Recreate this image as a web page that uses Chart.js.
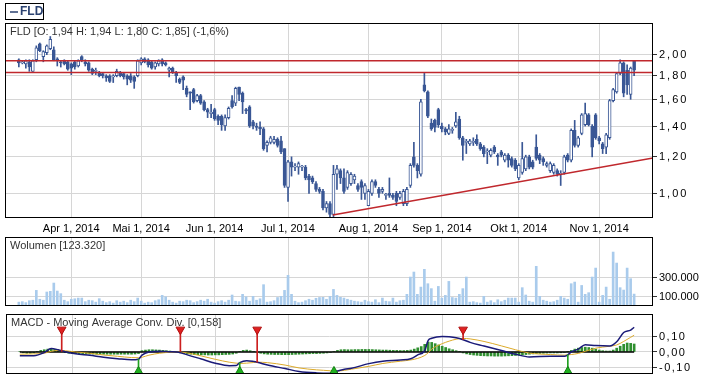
<!DOCTYPE html>
<html><head><meta charset="utf-8">
<script src="https://cdn.jsdelivr.net/npm/chart.js@4.4.1/dist/chart.umd.min.js"></script>
<style>
html,body{margin:0;padding:0;background:#fff;}
#wrap{position:relative;width:702px;height:380px;overflow:hidden;background:#fff;}
canvas{position:absolute;left:0;}
</style></head><body>
<div id="wrap">
<canvas id="c1" width="702" height="237" style="top:0;width:702px;height:237px"></canvas>
<canvas id="c2" width="702" height="69" style="top:237px;width:702px;height:69px"></canvas>
<canvas id="c3" width="702" height="72" style="top:308px;width:702px;height:72px"></canvas>
</div>
<script>
// ---- category / tick data ----
const monthIdx = [15, 35, 56, 77, 100, 121, 143, 166];
const monthLabels = ['Apr 1, 2014','Mai 1, 2014','Jun 1, 2014','Jul 1, 2014','Aug 1, 2014','Sep 1, 2014','Okt 1, 2014','Nov 1, 2014'];
const priceTicks = [1.0, 1.2, 1.4, 1.6, 1.8, 2.0];
const volumeTicks = [100000, 300000];
const macdTicks = [-0.1, 0, 0.1];

// ---- price series (one value per trading day) ----
const openP = [1.95,1.92,1.91,1.93,1.84,1.95,2.11,1.98,2.02,2.06,
2.05,1.96,1.93,1.94,1.93,1.91,1.93,1.89,1.98,1.93,
1.92,1.86,1.84,1.83,1.82,1.80,1.80,1.79,1.80,1.83,
1.82,1.80,1.80,1.79,1.80,1.92,1.96,1.95,1.93,1.88,
1.91,1.95,1.92,1.85,1.87,1.83,1.77,1.79,1.69,1.66,
1.68,1.59,1.63,1.58,1.52,1.49,1.52,1.47,1.47,1.40,
1.46,1.59,1.57,1.70,1.65,1.52,1.54,1.43,1.40,1.39,
1.38,1.27,1.29,1.29,1.31,1.30,1.25,1.03,1.17,1.14,
1.14,1.14,1.14,1.09,1.08,1.05,1.02,1.01,0.93,0.95,
0.90,1.10,1.12,1.08,1.03,1.05,1.07,1.04,1.06,1.00,
0.94,1.00,1.06,1.02,1.01,0.99,1.00,0.99,1.00,0.98,
0.95,0.95,1.04,1.20,1.15,1.10,1.72,1.66,1.42,1.44,
1.52,1.40,1.38,1.35,1.37,1.40,1.45,1.32,1.29,1.28,
1.29,1.31,1.28,1.26,1.23,1.21,1.26,1.21,1.23,1.18,
1.21,1.19,1.18,1.08,1.11,1.13,1.20,1.17,1.26,1.21,
1.19,1.15,1.12,1.11,1.12,1.10,1.11,1.21,1.18,1.37,
1.27,1.35,1.41,1.48,1.40,1.48,1.32,1.28,1.26,1.32,
1.59,1.66,1.82,1.92,1.85,1.64,1.94];
const highP = [1.96,1.94,1.95,1.95,1.95,2.09,2.12,2.04,2.10,2.19,
2.08,1.97,1.94,1.95,1.94,1.92,1.94,1.95,1.99,1.95,
1.93,1.87,1.87,1.84,1.83,1.81,1.81,1.81,1.86,1.84,
1.83,1.81,1.82,1.80,1.95,1.97,1.97,1.96,1.94,1.93,
1.95,1.96,1.93,1.88,1.88,1.84,1.78,1.80,1.71,1.66,
1.69,1.64,1.64,1.59,1.53,1.56,1.53,1.48,1.48,1.48,
1.54,1.63,1.70,1.70,1.66,1.53,1.55,1.44,1.42,1.43,
1.39,1.30,1.33,1.33,1.32,1.33,1.25,1.18,1.20,1.16,
1.17,1.15,1.15,1.10,1.09,1.06,1.03,1.02,0.96,0.96,
1.15,1.15,1.13,1.13,1.12,1.11,1.10,1.05,1.07,1.05,
1.02,1.07,1.07,1.03,1.03,1.00,1.08,1.00,1.01,1.01,
1.02,1.03,1.16,1.29,1.16,1.60,1.83,1.67,1.45,1.45,
1.53,1.42,1.39,1.41,1.39,1.50,1.47,1.33,1.31,1.31,
1.32,1.34,1.29,1.27,1.25,1.25,1.27,1.22,1.24,1.22,
1.22,1.20,1.19,1.16,1.29,1.21,1.21,1.18,1.34,1.22,
1.20,1.17,1.17,1.16,1.13,1.12,1.21,1.22,1.38,1.44,
1.33,1.49,1.57,1.49,1.41,1.49,1.33,1.29,1.35,1.60,
1.69,1.83,1.95,1.93,1.90,1.88,1.94];
const lowP = [1.88,1.91,1.87,1.84,1.84,1.93,2.03,1.93,2.00,2.05,
1.94,1.89,1.88,1.90,1.85,1.81,1.86,1.88,1.93,1.89,
1.84,1.81,1.81,1.79,1.78,1.75,1.74,1.74,1.79,1.79,
1.77,1.72,1.74,1.69,1.79,1.90,1.92,1.88,1.86,1.86,
1.89,1.89,1.89,1.79,1.82,1.74,1.73,1.68,1.62,1.52,
1.57,1.58,1.56,1.51,1.46,1.46,1.44,1.41,1.37,1.37,
1.45,1.53,1.55,1.59,1.49,1.49,1.39,1.38,1.37,1.34,
1.24,1.23,1.28,1.28,1.26,1.22,1.03,0.96,1.09,1.12,
1.10,1.12,1.07,1.00,1.05,1.01,1.00,0.92,0.91,0.89,
0.89,1.02,1.05,1.00,1.02,1.04,1.05,1.01,0.97,0.97,
0.94,0.99,1.03,0.98,1.00,0.97,0.98,0.97,0.94,0.97,
0.94,0.94,1.03,1.14,1.08,1.09,1.66,1.46,1.37,1.36,
1.39,1.36,1.34,1.34,1.35,1.39,1.31,1.18,1.22,1.27,
1.27,1.27,1.24,1.20,1.16,1.20,1.22,1.15,1.20,1.17,
1.14,1.14,1.12,1.07,1.10,1.12,1.13,1.13,1.18,1.16,
1.15,1.14,1.11,1.10,1.09,1.04,1.10,1.17,1.17,1.26,
1.26,1.34,1.40,1.40,1.20,1.31,1.28,1.22,1.22,1.31,
1.58,1.65,1.81,1.62,1.64,1.60,1.80];
const closeP = [1.92,1.93,1.94,1.88,1.94,2.07,2.04,2.03,2.09,2.16,
1.95,1.94,1.92,1.91,1.86,1.87,1.88,1.94,1.94,1.91,
1.85,1.82,1.85,1.80,1.80,1.78,1.75,1.80,1.84,1.80,
1.79,1.77,1.76,1.75,1.94,1.96,1.93,1.90,1.87,1.92,
1.94,1.91,1.90,1.87,1.83,1.80,1.74,1.76,1.64,1.65,
1.58,1.63,1.57,1.52,1.50,1.50,1.45,1.44,1.41,1.46,
1.53,1.54,1.69,1.64,1.58,1.51,1.40,1.40,1.39,1.38,
1.25,1.29,1.32,1.31,1.27,1.23,1.04,1.17,1.14,1.14,
1.16,1.14,1.08,1.07,1.06,1.02,1.01,0.93,0.95,0.90,
1.10,1.13,1.08,1.01,1.11,1.10,1.09,1.02,1.03,1.04,
1.01,1.06,1.04,1.00,1.02,0.99,0.99,0.98,0.96,1.00,
1.01,1.02,1.15,1.15,1.12,1.58,1.67,1.47,1.38,1.39,
1.41,1.38,1.36,1.38,1.37,1.43,1.32,1.27,1.29,1.30,
1.29,1.28,1.25,1.22,1.23,1.24,1.23,1.20,1.21,1.21,
1.18,1.15,1.13,1.15,1.19,1.20,1.14,1.14,1.19,1.18,
1.17,1.16,1.16,1.15,1.10,1.10,1.20,1.18,1.37,1.27,
1.32,1.48,1.49,1.41,1.26,1.32,1.30,1.25,1.34,1.59,
1.68,1.82,1.92,1.65,1.72,1.87,1.85];

// ---- volume ----
const volume = [40000,45000,35000,55000,60000,162000,70000,60000,145000,152000,
238000,155000,128000,60000,45000,70000,75000,82000,82000,45000,
60000,55000,40000,76000,50000,35000,45000,30000,55000,40000,
50000,35000,60000,45000,82000,50000,30000,40000,35000,55000,
65000,110000,95000,60000,40000,30000,50000,45000,60000,55000,
35000,45000,60000,50000,70000,40000,30000,45000,55000,40000,
60000,114000,50000,45000,121000,95000,50000,100000,60000,75000,
221000,40000,45000,55000,88000,100000,162000,318000,121000,50000,
35000,40000,55000,70000,60000,80000,88000,90000,70000,100000,
172000,110000,90000,82000,70000,60000,50000,45000,40000,60000,
45000,40000,65000,35000,82000,50000,45000,82000,40000,55000,
60000,121000,300000,352000,121000,196000,380000,231000,180000,50000,
203000,82000,110000,255000,88000,82000,121000,180000,300000,40000,
45000,35000,30000,100000,40000,55000,35000,65000,45000,60000,
82000,82000,82000,40000,190000,114000,50000,40000,411000,100000,
60000,50000,40000,45000,60000,100000,82000,70000,231000,248000,
40000,213000,121000,138000,300000,393000,40000,110000,196000,70000,
559000,445000,190000,165000,393000,283000,123320];

// ---- MACD ----
const macdIdx = [0,4,7,9,11,13,16,20,24,28,32,34,35,37,40,43,45,48,52,56,60,62,63,65,67,68,71,76,80,85,89,90,93,95,100,104,109,112,114,116,117,118,121,123,125,127,129,133,138,142,146,152,156,157,158,160,162,165,169,171,173,175,176];
const macdLine = [-0.023,-0.023,-0.004,0.022,0.014,0.002,-0.011,-0.021,-0.033,-0.042,
-0.049,-0.045,-0.020,0.000,0.005,0.002,0.000,-0.018,-0.044,-0.070,
-0.086,-0.085,-0.067,-0.055,-0.060,-0.064,-0.082,-0.104,-0.122,-0.131,
-0.133,-0.125,-0.108,-0.102,-0.073,-0.058,-0.050,-0.042,-0.018,0.009,
0.073,0.086,0.097,0.095,0.089,0.077,0.060,0.037,0.009,-0.014,
-0.031,-0.027,-0.027,-0.018,0.000,0.018,0.046,0.040,0.037,0.064,
0.122,0.137,0.155];
const signalLine = [-0.014,-0.012,-0.008,0.004,0.010,0.008,0.000,-0.008,-0.019,-0.027,
-0.035,-0.036,-0.033,-0.020,-0.008,-0.002,0.000,-0.006,-0.025,-0.046,
-0.064,-0.070,-0.072,-0.070,-0.066,-0.064,-0.067,-0.082,-0.100,-0.112,
-0.118,-0.121,-0.115,-0.108,-0.090,-0.072,-0.058,-0.050,-0.040,-0.022,
-0.005,0.018,0.052,0.068,0.080,0.085,0.082,0.066,0.038,0.014,
-0.007,-0.016,-0.020,-0.018,-0.016,-0.009,0.004,0.024,0.036,0.044,
0.066,0.092,0.105];
const histogram = [0.003,
-0.005,-0.008,-0.008,-0.006,
0.004,0.010,0.014,0.018,0.020,0.016,0.010,
0.002,-0.004,-0.008,
-0.010,-0.011,-0.012,-0.012,-0.013,-0.013,-0.013,-0.014,-0.014,-0.014,-0.014,-0.014,-0.014,-0.014,-0.014,-0.014,-0.014,-0.014,-0.013,-0.010,
0.008,0.012,0.014,0.014,0.013,0.012,0.010,0.008,0.006,0.004,0.000,
-0.006,-0.010,-0.012,-0.014,-0.016,-0.017,-0.018,-0.018,-0.019,-0.019,-0.018,-0.018,-0.017,-0.016,-0.015,-0.013,-0.008,
0.004,0.010,0.012,0.008,0.004,
-0.002,-0.008,-0.012,-0.014,-0.015,-0.016,-0.016,-0.017,-0.017,-0.017,-0.016,-0.015,-0.014,-0.013,-0.012,-0.011,-0.010,-0.010,-0.009,-0.008,-0.006,-0.003,
0.004,0.010,0.014,0.015,0.014,0.014,0.015,0.015,0.016,0.016,0.016,0.015,0.014,0.013,0.012,0.012,0.011,0.010,0.010,0.009,0.009,0.010,0.012,0.018,0.026,0.034,0.048,0.062,0.060,0.052,0.044,0.036,0.028,0.020,0.014,0.008,0.002,
-0.006,-0.012,-0.016,-0.019,-0.021,-0.023,-0.024,-0.025,-0.025,-0.026,-0.026,-0.026,-0.025,-0.024,-0.023,-0.022,-0.020,-0.018,-0.016,-0.014,-0.012,-0.010,-0.009,-0.008,-0.007,-0.006,-0.006,-0.006,-0.005,-0.003,
0.002,0.010,0.018,0.024,0.028,0.030,0.028,0.024,0.018,0.012,0.008,0.006,0.006,0.012,0.024,0.036,0.048,0.056,0.054,0.050];
const sellIdx = [12, 46, 68, 127];
const sellLevel = [0.004, 0.000, -0.064, 0.077];
const buyIdx = [34, 63, 90, 157];
const buyLevel = [-0.045, -0.067, -0.125, -0.018];
const sellMarker = 0.14;
const buyMarker = -0.122;

// ---- drawn lines on price chart ----
const resistance = [1.94, 1.83];
const trendIdx = [89.8, 181.4];
const trendVal = [0.897, 1.193];

// ---------------------------------------------------------------
const X_MIN = -3.96, X_MAX = 181.4;
const BLUE = '#3a5795';
const FONT = '"Liberation Sans", Arial, sans-serif';
Chart.defaults.font.family = FONT;
Chart.defaults.font.size = 11;
Chart.defaults.color = '#000';

const days = openP.map((_, i) => i);
const commaFmt = (v) => v.toFixed(2).replace('.', ',');
const thousandFmt = (v) => Math.round(v).toString().replace(/\B(?=(\d{3})+(?!\d))/g, '.');

function xScale(showLabels) {
  return {
    type: 'linear', min: X_MIN, max: X_MAX, offset: false,
    afterBuildTicks: s => { s.ticks = monthIdx.map(v => ({ value: v })); },
    afterFit: s => { s.height = showLabels ? 19 : 0; s.paddingLeft = 0; s.paddingRight = 0; },
    grid: { color: '#d6d6d6', drawTicks: false, offset: false },
    border: { display: false },
    ticks: { display: showLabels, autoSkip: false, maxRotation: 0, padding: 4, color: '#000',
      callback: (v, i) => monthLabels[i] }
  };
}
function yRight(extra) {
  return Object.assign({
    position: 'right',
    afterFit: s => { s.width = 49; s.paddingTop = 0; s.paddingBottom = 0; },
    grid: { color: '#d6d6d6', tickColor: '#333', tickLength: 4 },
    border: { display: false }
  }, extra);
}

// frame, in-panel title, legend box and spaced y-axis labels
const framePlugin = {
  id: 'frame',
  afterDraw(chart, args, opts) {
    const { ctx, chartArea: a } = chart;
    ctx.save();
    ctx.strokeStyle = '#000';
    ctx.lineWidth = 1;
    ctx.strokeRect(a.left + 0.5, a.top + 0.5, a.right - a.left - 1, a.bottom - a.top - 1);
    ctx.textBaseline = 'middle';
    ctx.textAlign = 'left';
    if (opts.title) {
      ctx.font = '11px ' + FONT;
      ctx.fillStyle = '#333';
      ctx.fillText(opts.title, a.left + 5, a.top + 9);
    }
    if (opts.legend) {
      ctx.strokeRect(5.5, 3.5, 38, 16);
      ctx.strokeStyle = '#2b4270';
      ctx.lineWidth = 1.5;
      ctx.beginPath(); ctx.moveTo(10, 12); ctx.lineTo(18, 12); ctx.stroke();
      ctx.font = 'bold 12px ' + FONT;
      ctx.fillStyle = '#2b4270';
      ctx.fillText(opts.legend, 20, 12);
    }
    if (opts.yFormat) {
      const s = chart.scales.y;
      ctx.font = '11px ' + FONT;
      ctx.fillStyle = '#000';
      ctx.letterSpacing = (opts.ySpacing || 0) + 'px';
      s.ticks.forEach(t => {
        ctx.fillText(opts.yFormat(t.value), a.right + 6, s.getPixelForValue(t.value) + 0.5);
      });
    }
    ctx.restore();
  }
};

const baseOpts = {
  responsive: false, animation: false, devicePixelRatio: 1, events: []
};

// ---- price chart ----
new Chart(document.getElementById('c1'), {
  type: 'bar',
  data: {
    datasets: [
      { label: 'wick', data: days.map(i => ({ x: i, y: [lowP[i], highP[i]] })),
        backgroundColor: BLUE, barThickness: 1, grouped: false, order: 5 },
      { label: 'body', data: days.map(i => ({ x: i, y: [openP[i], closeP[i]] })),
        backgroundColor: (c) => { const i = c.dataIndex; return closeP[i] >= openP[i] ? '#ffffff' : BLUE; },
        borderColor: BLUE, borderWidth: 1, borderSkipped: false, minBarLength: 1,
        barThickness: 3, grouped: false, order: 4 },
      ...resistance.map(r => ({ type: 'line', data: [{ x: X_MIN, y: r }, { x: X_MAX, y: r }],
        borderColor: '#c0282d', borderWidth: 1.5, pointRadius: 0, order: 1 })),
      { type: 'line', data: trendIdx.map((x, k) => ({ x, y: trendVal[k] })),
        borderColor: '#c0282d', borderWidth: 1.5, pointRadius: 0, order: 1 }
    ]
  },
  options: Object.assign({}, baseOpts, {
    layout: { padding: { left: 5, top: 23, right: 0, bottom: 0 } },
    scales: {
      x: xScale(true),
      y: yRight({ type: 'logarithmic', min: 0.884, max: 2.343,
        afterBuildTicks: s => { s.ticks = priceTicks.map(v => ({ value: v })); },
        ticks: { display: false, autoSkip: false, callback: v => commaFmt(v) } })
    },
    plugins: { legend: { display: false }, tooltip: { enabled: false },
      frame: { title: 'FLD [O: 1,94 H: 1,94 L: 1,80 C: 1,85] (-1,6%)', legend: 'FLD',
        yFormat: commaFmt, ySpacing: 2 } }
  }),
  plugins: [framePlugin]
});

// ---- volume chart ----
new Chart(document.getElementById('c2'), {
  type: 'bar',
  data: { datasets: [
    { data: days.map(i => ({ x: i, y: volume[i] })), backgroundColor: '#a9cbec', barThickness: 2 }
  ] },
  options: Object.assign({}, baseOpts, {
    layout: { padding: { left: 5, top: 0, right: 0, bottom: 0 } },
    scales: {
      x: xScale(false),
      y: yRight({ type: 'linear', min: 0, max: 715000,
        afterBuildTicks: s => { s.ticks = volumeTicks.map(v => ({ value: v })); },
        ticks: { display: false, autoSkip: false, callback: v => thousandFmt(v) } })
    },
    plugins: { legend: { display: false }, tooltip: { enabled: false },
      frame: { title: 'Wolumen [123.320]', yFormat: thousandFmt, ySpacing: 0 } }
  }),
  plugins: [framePlugin]
});

// ---- MACD chart ----
new Chart(document.getElementById('c3'), {
  type: 'bar',
  data: { datasets: [
    { data: days.map(i => ({ x: i, y: histogram[i] })), backgroundColor: '#2f8f2f', barThickness: 2, grouped: false, order: 6 },
    { type: 'line', data: [{ x: 0, y: 0 }, { x: days.length - 1, y: 0 }], borderColor: '#000', borderWidth: 1.5, pointRadius: 0, order: 5 },
    { type: 'line', data: macdIdx.map((x, k) => ({ x, y: signalLine[k] })), borderColor: '#dcaa2a', borderWidth: 1, pointRadius: 0, cubicInterpolationMode: 'monotone', order: 4 },
    { type: 'line', data: macdIdx.map((x, k) => ({ x, y: macdLine[k] })), borderColor: '#1a1a78', borderWidth: 1.5, pointRadius: 0, cubicInterpolationMode: 'monotone', order: 3 },
    { data: sellIdx.map((x, k) => ({ x, y: [sellLevel[k], sellMarker] })), backgroundColor: '#cc1f1f', barThickness: 1, grouped: false, order: 2 },
    { data: buyIdx.map((x, k) => ({ x, y: [buyMarker, buyLevel[k]] })), backgroundColor: '#22a022', barThickness: 1, grouped: false, order: 2 },
    { type: 'line', showLine: false, data: sellIdx.map(x => ({ x, y: sellMarker })), pointStyle: 'triangle', rotation: 180,
      pointRadius: 5, backgroundColor: '#e02020', borderColor: '#b01010', borderWidth: 1, order: 1 },
    { type: 'line', showLine: false, data: buyIdx.map(x => ({ x, y: buyMarker })), pointStyle: 'triangle',
      pointRadius: 5, backgroundColor: '#20b020', borderColor: '#108010', borderWidth: 1, order: 1 }
  ] },
  options: Object.assign({}, baseOpts, {
    layout: { padding: { left: 5, top: 0, right: 0, bottom: 3 } },
    scales: {
      x: xScale(false),
      y: yRight({ type: 'linear', min: -0.138, max: 0.238,
        afterBuildTicks: s => { s.ticks = macdTicks.map(v => ({ value: v })); },
        ticks: { display: false, autoSkip: false, callback: v => commaFmt(v) } })
    },
    plugins: { legend: { display: false }, tooltip: { enabled: false },
      frame: { title: 'MACD - Moving Average Conv. Div. [0,158]', yFormat: commaFmt, ySpacing: 1.5 } }
  }),
  plugins: [framePlugin]
});
</script>
</body></html>
